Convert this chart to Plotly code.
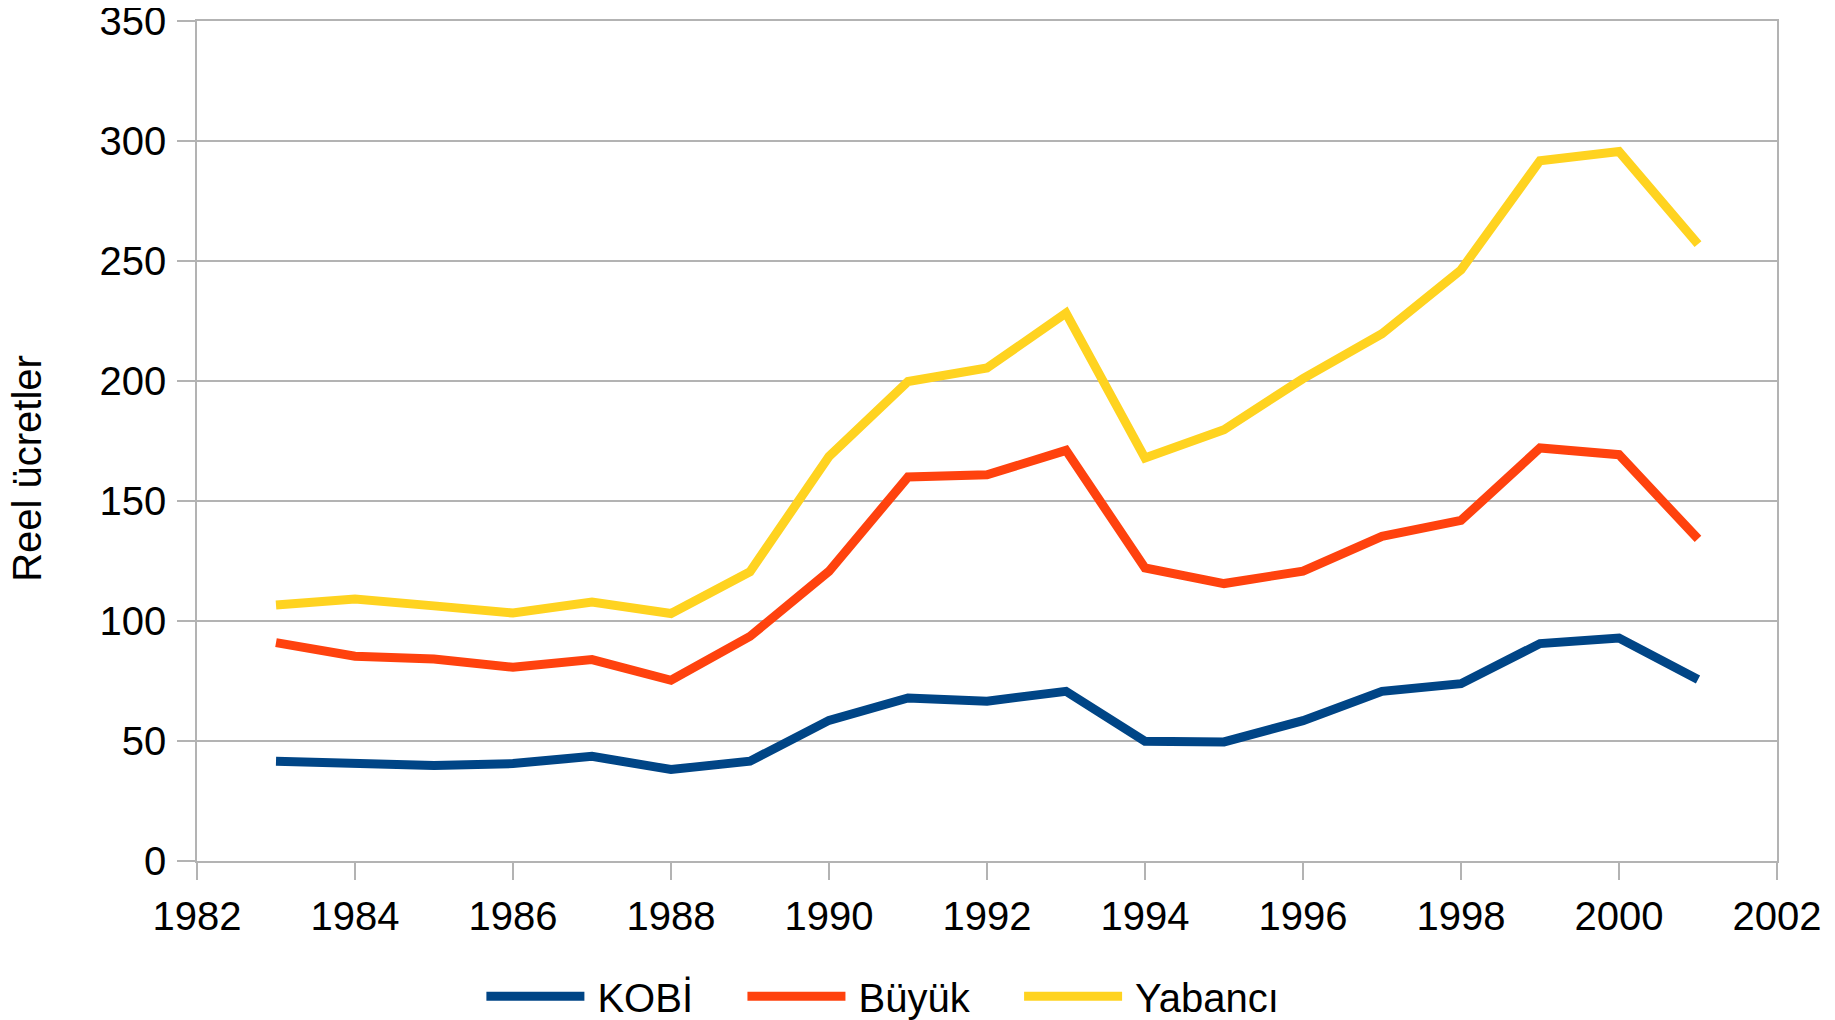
import plotly.graph_objects as go

years = list(range(1983, 2002))
kobi = [41.6, 40.5, 39.8, 40.6, 43.6, 38.1, 41.6, 58.6, 67.9, 66.6, 70.7, 49.9, 49.6, 58.5, 70.7, 73.9, 90.6, 92.9, 75.6]
buyuk = [91.0, 85.3, 84.2, 80.7, 83.9, 75.3, 93.6, 120.7, 160.0, 160.9, 171.1, 122.1, 115.6, 120.8, 135.3, 141.9, 172.1, 169.3, 134.2]
yabanci = [106.7, 109.2, 106.3, 103.3, 107.9, 103.1, 120.5, 168.6, 199.8, 205.4, 228.3, 167.9, 179.7, 201.0, 219.7, 246.3, 291.8, 295.6, 257.0]

series_names = ["KOBİ", "Büyük", "Yabancı"]
series_colors = ["#004586", "#ff420e", "#ffd320"]
x_ticks = list(range(1982, 2003, 2))
y_ticks = list(range(0, 351, 50))
y_title = "Reel ücretler"

FONT = "Liberation Sans, Arial, sans-serif"
NB = "\u00a0"
fig = go.Figure()
for name, vals, col in zip(series_names, [kobi, buyuk, yabanci], series_colors):
    fig.add_trace(go.Scatter(x=years, y=vals, mode="lines", name="\u2009" + name + NB * 4,
                             line=dict(color=col, width=9)))

fig.add_annotation(text=y_title, textangle=-90, xref="paper", yref="paper",
                   x=-0.1076, y=0.468, xanchor="center", yanchor="middle", showarrow=False,
                   font=dict(size=40, family=FONT, color="black"))

fig.update_layout(
    width=1835, height=1020,
    margin=dict(l=189, r=66, t=13, b=166.5, autoexpand=False),
    paper_bgcolor="white", plot_bgcolor="white",
    font=dict(family=FONT, size=40, color="black"),
    showlegend=True,
    legend=dict(orientation="h", x=0.180, xanchor="left", y=-0.161, yanchor="middle",
                itemwidth=98, font=dict(size=40, family=FONT), traceorder="normal",
                bgcolor="rgba(0,0,0,0)"),
    xaxis=dict(range=[1982, 2002], tickvals=x_ticks, ticktext=[str(v) for v in x_ticks],
               showgrid=False, zeroline=False, showline=True, mirror=True, linecolor="#b3b3b3", linewidth=1.5,
               ticks="outside", ticklen=17, tickcolor="#b3b3b3", tickwidth=1.5,
               tickfont=dict(size=40, family=FONT, color="black"), ticklabelstandoff=2),
    yaxis=dict(range=[0, 350], tickvals=y_ticks, showgrid=True, gridcolor="#b3b3b3", gridwidth=1.5,
               zeroline=False, showline=True, mirror=True, linecolor="#b3b3b3", linewidth=1.5,
               ticks="outside", ticklen=18, tickcolor="#b3b3b3", tickwidth=1.5,
               ticklabeloverflow="allow",
               tickfont=dict(size=40, family=FONT, color="black"), ticklabelstandoff=3),
)
fig.write_html("out.html")
